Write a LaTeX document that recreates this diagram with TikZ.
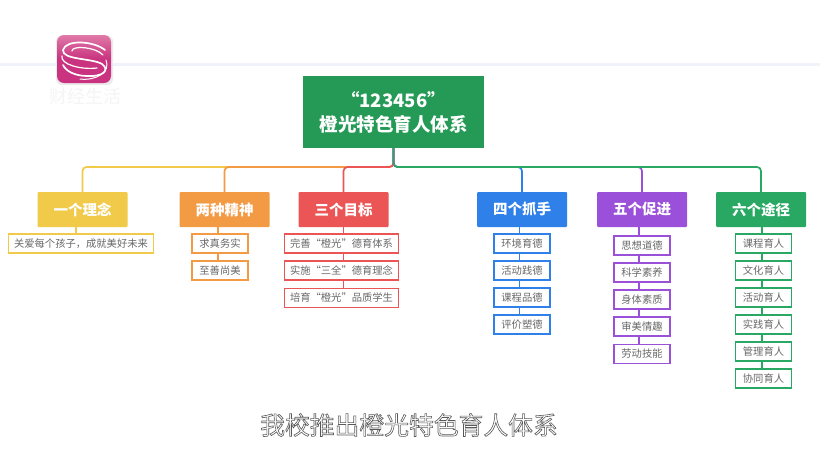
\documentclass[tikz,border=0pt]{standalone}
\usepackage{fontspec}
\setmainfont{Noto Sans CJK SC}
\definecolor{cRoot}{HTML}{259A56}
\definecolor{cYellow}{HTML}{F0CA48}
\definecolor{cOrange}{HTML}{F39A45}
\definecolor{cRed}{HTML}{EC5556}
\definecolor{cBlue}{HTML}{2F80E8}
\definecolor{cPurple}{HTML}{9A50D8}
\definecolor{cGreen}{HTML}{29A864}
\definecolor{cLeafText}{HTML}{686868}
\definecolor{cRule}{HTML}{F1F3FB}
\definecolor{cLogo}{HTML}{C9337F}
\definecolor{cLogoTop}{HTML}{E07AA8}
\definecolor{cFaint}{HTML}{F5F5F7}
\tikzset{
  rootbox/.style={fill=cRoot,text=white,font=\bfseries\fontsize{18.5}{24}\selectfont,align=center,minimum width=181,minimum height=72,inner sep=0,outer sep=0},
  headbox/.style={fill=#1,text=white,font=\bfseries\fontsize{14.5}{18}\selectfont,minimum width=90,minimum height=35,inner sep=0,outer sep=0,rounded corners=1},
  leafbox/.style={fill=white,font=\fontsize{10.3}{12}\selectfont\color{cLeafText},minimum width=56,minimum height=19,inner sep=0,outer sep=0},
  leafedge/.style={draw=#1,line width=1.5},
  bus/.style={draw=#1,line width=1.7,rounded corners=4},
  stem/.style={draw=#1,line width=1.5},
}
\begin{document}
\begin{tikzpicture}[x=1pt,y=-1pt]
\useasboundingbox (0,0) rectangle (820,461);
\fill[white] (0,0) rectangle (820,461);
\fill[cRule] (0,62.5) rectangle (820,66);
% logo
\begin{scope}
\fill[black!8,rounded corners=6] (56,35.5) rectangle (113,85);
\path[rounded corners=7,top color=cLogoTop,bottom color=cLogo,middle color=cLogo] (57,35) rectangle (111,83);
\draw[white,line width=1.7,line cap=round] (105,50) .. controls (94,41) and (66,39) .. (63,50) .. controls (62,60) and (92,58) .. (102,64) .. controls (110,70) and (104,77) .. (86,76) .. controls (74,75.5) and (66,71) .. (63,65);
\draw[white,line width=1.2,line cap=round] (103,55) .. controls (96,47) and (72,45) .. (72,51);
\draw[white,line width=1.2,line cap=round] (62,56) .. controls (60,64) and (80,70) .. (97,68);
\draw[white,line width=1,line cap=round] (106,60) .. controls (111,72) and (96,81) .. (80,79);
\end{scope}
\node[text=cFaint,font=\fontsize{18}{20}\selectfont] (brand) at (85,97) {财经生活};
% root and heads
\node[rootbox] (root) at (393.5,112) {“123456”\\橙光特色育人体系};
\coordinate (busy) at (0,167);
\node[headbox=cYellow] (a) at (82.5,209.5) {一个理念};
\node[headbox=cOrange] (b) at (224.5,209.5) {两种精神};
\node[headbox=cRed] (c) at (343.5,209.5) {三个目标};
\node[headbox=cBlue] (d) at (522,209.5) {四个抓手};
\node[headbox=cPurple] (e) at (642,209.5) {五个促进};
\node[headbox=cGreen] (f) at (761,209.5) {六个途径};
% branches
\draw[bus=cYellow] (root.south) |- (a.north |- busy) -- (a.north);
\draw[bus=cOrange] (root.south) |- (b.north |- busy) -- (b.north);
\draw[bus=cRed] (root.south) |- (c.north |- busy) -- (c.north);
\draw[bus=cBlue] (root.south) |- (d.north |- busy) -- (d.north);
\draw[bus=cPurple] (root.south) |- (e.north |- busy) -- (e.north);
\draw[bus=cGreen] (root.south) |- (f.north |- busy) -- (f.north);
% stem positions
\coordinate (sa) at (76,0);
\coordinate (sb) at (218,0);
\coordinate (sc) at (343.5,0);
\coordinate (sd) at (519.5,0);
\coordinate (se) at (639,0);
\coordinate (sf) at (762,0);
% leaves
\node[leafbox,minimum width=145] (a1) at (81,243.5) {关爱每个孩子，成就美好未来};
\node[leafbox] (b1) at (220,243.5) {求真务实};
\node[leafbox] (b2) at (220,270.5) {至善尚美};
\node[leafbox,minimum width=114] (c1) at (341.5,243.5) {完善“橙光”德育体系};
\node[leafbox,minimum width=114] (c2) at (341.5,270.5) {实施“三全”德育理念};
\node[leafbox,minimum width=114] (c3) at (341.5,298) {培育“橙光”品质学生};
\node[leafbox] (d1) at (522,243.5) {环境育德};
\node[leafbox] (d2) at (522,270.5) {活动践德};
\node[leafbox] (d3) at (522,297.5) {课程品德};
\node[leafbox] (d4) at (522,324.5) {评价塑德};
\node[leafbox] (e1) at (642,245.5) {思想道德};
\node[leafbox] (e2) at (642,272.5) {科学素养};
\node[leafbox] (e3) at (642,299.5) {身体素质};
\node[leafbox] (e4) at (642,326.5) {审美情趣};
\node[leafbox] (e5) at (642,354) {劳动技能};
\node[leafbox] (f1) at (763.5,243.5) {课程育人};
\node[leafbox] (f2) at (763.5,270.5) {文化育人};
\node[leafbox] (f3) at (763.5,297.5) {活动育人};
\node[leafbox] (f4) at (763.5,324.5) {实践育人};
\node[leafbox] (f5) at (763.5,351.5) {管理育人};
\node[leafbox] (f6) at (763.5,378.5) {协同育人};
% leaf borders
\foreach \n in {a1}{\draw[leafedge=cYellow] (\n.south west) rectangle (\n.north east);}
\foreach \n in {b1,b2}{\draw[leafedge=cOrange] (\n.south west) rectangle (\n.north east);}
\foreach \n in {c1,c2,c3}{\draw[leafedge=cRed] (\n.south west) rectangle (\n.north east);}
\foreach \n in {d1,d2,d3,d4}{\draw[leafedge=cBlue] (\n.south west) rectangle (\n.north east);}
\foreach \n in {e1,e2,e3,e4,e5}{\draw[leafedge=cPurple] (\n.south west) rectangle (\n.north east);}
\foreach \n in {f1,f2,f3,f4,f5,f6}{\draw[leafedge=cGreen] (\n.south west) rectangle (\n.north east);}
% leaf connectors
\draw[stem=cYellow] (a.south -| sa) -- (a1.north -| sa);
\draw[stem=cOrange] (b.south -| sb) -- (b1.north -| sb);
\draw[stem=cOrange] (b1.south -| sb) -- (b2.north -| sb);
\draw[stem=cRed] (c.south -| sc) -- (c1.north -| sc);
\draw[stem=cRed] (c1.south -| sc) -- (c2.north -| sc);
\draw[stem=cRed] (c2.south -| sc) -- (c3.north -| sc);
\draw[stem=cBlue] (d.south -| sd) -- (d1.north -| sd);
\draw[stem=cBlue] (d1.south -| sd) -- (d2.north -| sd);
\draw[stem=cBlue] (d2.south -| sd) -- (d3.north -| sd);
\draw[stem=cBlue] (d3.south -| sd) -- (d4.north -| sd);
\draw[stem=cPurple] (e.south -| se) -- (e1.north -| se);
\draw[stem=cPurple] (e1.south -| se) -- (e2.north -| se);
\draw[stem=cPurple] (e2.south -| se) -- (e3.north -| se);
\draw[stem=cPurple] (e3.south -| se) -- (e4.north -| se);
\draw[stem=cPurple] (e4.south -| se) -- (e5.north -| se);
\draw[stem=cGreen] (f.south -| sf) -- (f1.north -| sf);
\draw[stem=cGreen] (f1.south -| sf) -- (f2.north -| sf);
\draw[stem=cGreen] (f2.south -| sf) -- (f3.north -| sf);
\draw[stem=cGreen] (f3.south -| sf) -- (f4.north -| sf);
\draw[stem=cGreen] (f4.south -| sf) -- (f5.north -| sf);
\draw[stem=cGreen] (f5.south -| sf) -- (f6.north -| sf);
% caption
\node[font=\fontsize{24.8}{28}\selectfont] (cap) at (409,425) {\special{pdf:code 2 Tr 0.6 w 0.35 0.35 0.35 RG 1 1 1 rg}我校推出橙光特色育人体系\special{pdf:code 0 Tr}};
\end{tikzpicture}
\end{document}
